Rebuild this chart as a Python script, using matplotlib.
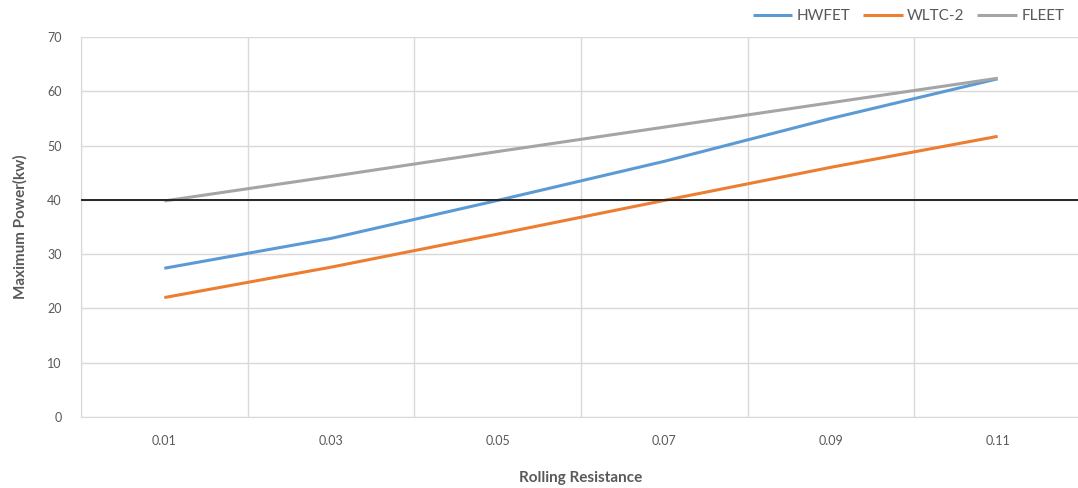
import matplotlib.pyplot as plt

plt.rcParams['font.family'] = ['Lato', 'DejaVu Sans']

rolling = ["0.01", "0.03", "0.05", "0.07", "0.09", "0.11"]
hwfet = [27.4, 32.9, 39.9, 47.1, 55.0, 62.3]
wltc2 = [22.0, 27.6, 33.7, 39.9, 46.0, 51.7]
fleet = [39.8, 44.3, 48.9, 53.4, 57.9, 62.4]
limit = 40

grid_col = "#D9D9D9"
text_col = "#595959"

fig = plt.figure(figsize=(10.78, 4.88), dpi=100)
ax = fig.add_axes([81 / 1078, 1 - 417 / 488, 1000 / 1078, 380 / 488])

x = range(len(rolling))
ax.plot(x, hwfet, color="#5B9BD5", lw=2.2, label="HWFET", solid_capstyle="butt")
ax.plot(x, wltc2, color="#ED7D31", lw=2.2, label="WLTC-2", solid_capstyle="butt")
ax.plot(x, fleet, color="#A5A5A5", lw=2.2, label="FLEET", solid_capstyle="butt")
ax.axhline(limit, color="#262626", lw=1.4, zorder=3)

ax.set_xlim(-0.5, len(rolling) - 0.5)
ax.set_ylim(0, 70)
ax.set_yticks(range(0, 71, 10))
ax.set_xticks(list(x))
ax.set_xticklabels(rolling)
ax.set_xticks([i + 0.5 for i in range(-1, len(rolling))], minor=True)

ax.grid(False)
ax.yaxis.grid(True, color=grid_col, lw=1)
ax.xaxis.grid(True, which="minor", color=grid_col, lw=1)
ax.set_axisbelow(True)
for side in ["top", "right"]:
    ax.spines[side].set_visible(False)
ax.spines["left"].set_color(grid_col)
ax.spines["bottom"].set_color(grid_col)
ax.tick_params(axis="both", which="both", length=0, colors=text_col, labelsize=9)
ax.tick_params(axis="y", pad=14)
ax.tick_params(axis="x", pad=13)

ax.set_xlabel("Rolling Resistance", fontsize=11, fontweight="bold", color=text_col, labelpad=17)
ax.set_ylabel("Maximum Power(kw)", fontsize=11, fontweight="bold", color=text_col, labelpad=14)

fig.legend(loc="upper right", bbox_to_anchor=(1.0, 1.01), ncol=3, frameon=False,
           fontsize=11, handlelength=2.6, columnspacing=0.8, handletextpad=0.3,
           labelcolor=text_col)

fig.savefig("out.png", dpi=100)
